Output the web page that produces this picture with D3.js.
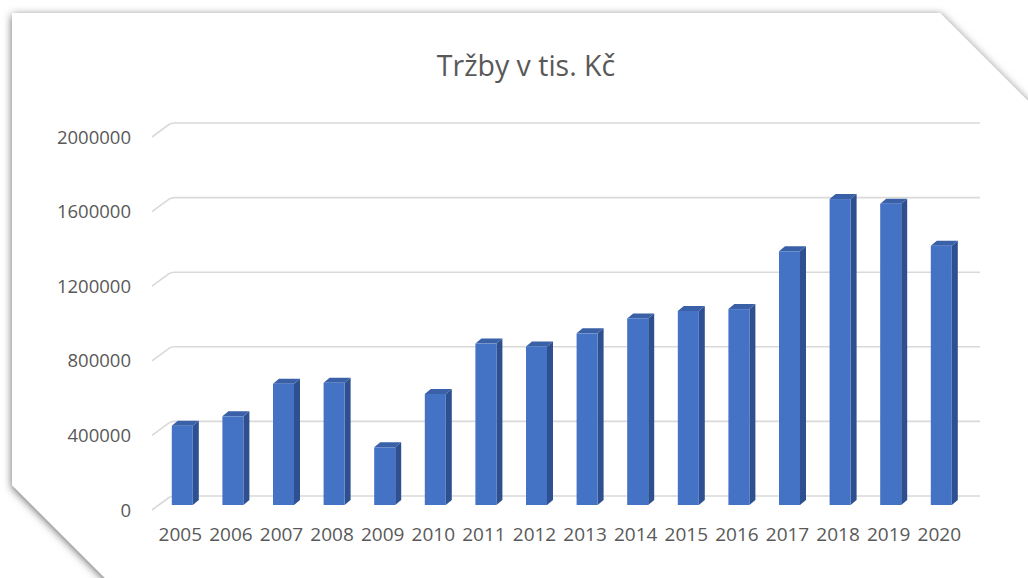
<!DOCTYPE html>
<html><head><meta charset="utf-8">
<script src="https://cdn.jsdelivr.net/npm/d3@7"></script>
<style>html,body{margin:0;padding:0;background:#fff;}svg{display:block;}</style>
</head><body>
<svg id="c" width="1028" height="578"></svg>
<script>
const title = "Tržby v tis. Kč";
const years = ["2005","2006","2007","2008","2009","2010","2011","2012","2013","2014","2015","2016","2017","2018","2019","2020"];
const sales = [420000,470000,645000,650000,304000,590000,860000,845000,915000,995000,1035000,1045000,1355000,1635000,1610000,1385000];
const yTicks = [0,400000,800000,1200000,1600000,2000000];

const svg = d3.select("#c");
const defs = svg.append("defs");
const f = defs.append("filter").attr("id","sh").attr("x","-10%").attr("y","-10%").attr("width","120%").attr("height","120%");
f.append("feDropShadow").attr("dx",0).attr("dy",2).attr("stdDeviation",4).attr("flood-color","#000").attr("flood-opacity",0.6);

// card
svg.append("path")
  .attr("d","M12,13 L940,13 L1040,113 L1040,610 L137,610 L12,485 Z")
  .attr("fill","#fff").attr("filter","url(#sh)");

const y = d3.scaleLinear().domain([0,2000000]).range([496,123]);
const x = d3.scaleBand().domain(years).range([158,158+16*50.6]).paddingInner(0).paddingOuter(0);

// gridlines with 3D side-wall diagonal
const grid = svg.append("g");
grid.selectAll("path").data(yTicks).join("path")
  .attr("d", d => { const yy = y(d); return `M152,${yy+14} L169,${yy+1.5} Q171,${yy} 175,${yy} L980,${yy}`; })
  .attr("fill","none").attr("stroke","#d9d9d9").attr("stroke-width",1.6);

// y axis labels
svg.append("g").selectAll("text").data(yTicks).join("text")
  .attr("x",131).attr("y",d=>y(d)+13).attr("text-anchor","end").attr("dominant-baseline","central")
  .attr("font-family","Open Sans, sans-serif").attr("font-size",18.5).attr("fill","#595959")
  .text(d=>String(d));

// bars (3D look)
const fw = 21, dx = 6, dy = 5, off = 8;
const bars = svg.append("g").selectAll("g").data(years.map((yr,i)=>({yr, v: sales[i]}))).join("g");
bars.each(function(d){
  const g = d3.select(this);
  const x0 = x(d.yr) + x.bandwidth()/2 - fw/2 - 1;
  const x1 = x0 + fw;
  const yb = y(0) + off + 1;
  const yt = y(d.v) + off;
  g.append("path").attr("d",`M${x1},${yt} L${x1+dx},${yt-dy} L${x1+dx},${yb-dy} L${x1},${yb} Z`).attr("fill","#2e5090");
  g.append("path").attr("d",`M${x0},${yt} L${x0+dx},${yt-dy} L${x1+dx},${yt-dy} L${x1},${yt} Z`).attr("fill","#3a60a8");
  g.append("rect").attr("x",x0).attr("y",yt).attr("width",fw).attr("height",yb-yt).attr("fill","#4472c4");
});

// x labels
svg.append("g").selectAll("text").data(years).join("text")
  .attr("x",d=>x(d)+x.bandwidth()/2-3).attr("y",541).attr("text-anchor","middle")
  .attr("font-family","Open Sans, sans-serif").attr("font-size",19).attr("fill","#595959")
  .text(d=>d);

// title
svg.append("text").attr("x",526).attr("y",76).attr("text-anchor","middle")
  .attr("font-family","Open Sans, sans-serif").attr("font-size",28.5).attr("fill","#595959")
  .text(title);
</script>
</body></html>
